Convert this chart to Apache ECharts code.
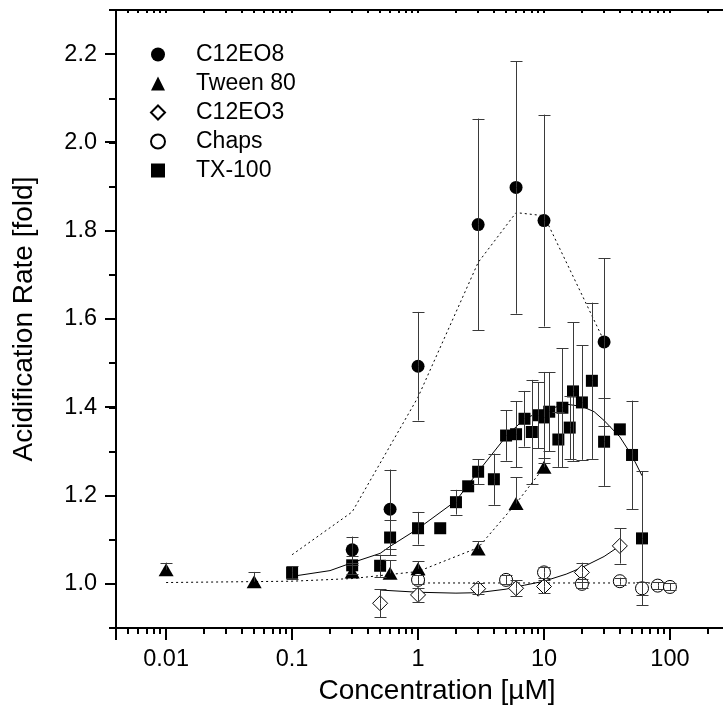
<!DOCTYPE html>
<html><head><meta charset="utf-8">
<script src="https://cdn.jsdelivr.net/npm/echarts@6/dist/echarts.min.js"></script>
<style>html,body{margin:0;padding:0;background:#fff}#c{width:723px;height:709px}</style>
</head><body><div id="c"></div><script>
const FONT = "'Liberation Sans', Arial, sans-serif";

// ---- data (concentration in µM, rate in fold) ----
const c12eo8Conc = [0.3, 0.6, 1, 3, 6, 10, 30];
const c12eo8Val  = [1.077, 1.169, 1.493, 1.814, 1.898, 1.823, 1.548];
const c12eo8Err  = [0.03, 0.09, 0.123, 0.24, 0.286, 0.24, 0.19];
const c12eo8LineConc = [0.1, 0.3, 1, 3, 6, 10, 30];
const c12eo8LineVal  = [1.066, 1.163, 1.423, 1.728, 1.841, 1.834, 1.55];

const tweenConc = [0.01, 0.05, 0.3, 0.6, 1, 3, 6, 10];
const tweenVal  = [1.032, 1.005, 1.027, 1.024, 1.034, 1.079, 1.182, 1.264];
const tweenErr  = [0.016, 0.022, 0.015, 0.03, 0.017, 0.018, 0.06, 0.02];
const tweenLineConc = [0.01, 0.1, 0.3, 1, 3, 6, 10];
const tweenLineVal  = [1.003, 1.006, 1.012, 1.028, 1.082, 1.182, 1.264];

const c12eo3Conc = [0.5, 1, 3, 6, 10, 20, 40];
const c12eo3Val  = [0.956, 0.975, 0.989, 0.990, 0.994, 1.026, 1.086];
const c12eo3Err  = [0.032, 0.015, 0.012, 0.018, 0.015, 0.022, 0.04];
const c12eo3LineConc = [0.5, 1, 2, 3, 5, 7, 10, 15, 20, 30, 40];
const c12eo3LineVal  = [0.986, 0.981, 0.979, 0.980, 0.988, 0.997, 1.006, 1.022, 1.037, 1.062, 1.086];

const chapsConc = [1, 5, 10, 20, 40, 60, 80, 100];
const chapsVal  = [1.009, 1.009, 1.026, 1.0, 1.006, 0.990, 0.996, 0.993];
const chapsErr  = [0.01, 0.01, 0.012, 0.01, 0.008, 0.015, 0.008, 0.008];
const chapsLineConc = [1, 100];
const chapsLineVal  = [1.002, 1.002];

const tx100Conc = [0.1, 0.3, 0.5, 0.6, 1, 1.5, 2, 2.5, 3, 4, 5, 6, 7, 8, 9, 10, 11, 13, 14, 16, 17, 20, 24, 30, 40, 50, 60];
const tx100Val  = [1.025, 1.042, 1.041, 1.105, 1.126, 1.126, 1.185, 1.221, 1.254, 1.237, 1.336, 1.339, 1.374, 1.344, 1.382, 1.377, 1.39, 1.327, 1.399, 1.354, 1.436, 1.411, 1.46, 1.322, 1.35, 1.292, 1.103];
const tx100Err  = [0.015, 0.02, 0.025, 0.04, 0.037, 0, 0.028, 0, 0.028, 0.058, 0.057, 0.075, 0.063, 0.118, 0.075, 0.103, 0.09, 0.062, 0.135, 0.072, 0.157, 0.13, 0.177, 0.1, 0, 0.123, 0.152];
const tx100LineConc = [0.1, 0.2, 0.3, 0.5, 0.6, 1, 2, 3, 5, 7, 10, 15, 20, 25, 30, 40, 50, 60];
const tx100LineVal  = [1.017, 1.03, 1.048, 1.069, 1.085, 1.125, 1.188, 1.254, 1.334, 1.374, 1.393, 1.407, 1.402, 1.39, 1.37, 1.333, 1.29, 1.245];

// ---- axes / ticks ----
const X_MIN = 0.004, X_MAX = 500, Y_MIN = 0.9, Y_MAX = 2.3;
const xMajorTicks = [0.01, 0.1, 1, 10, 100];
const xMinorTicks = [0.005, 0.006, 0.007, 0.008, 0.009,
  0.02, 0.03, 0.04, 0.05, 0.06, 0.07, 0.08, 0.09,
  0.2, 0.3, 0.4, 0.5, 0.6, 0.7, 0.8, 0.9,
  2, 3, 4, 5, 6, 7, 8, 9,
  20, 30, 40, 50, 60, 70, 80, 90,
  200, 300, 400];
const yMajorTicks = [1.0, 1.2, 1.4, 1.6, 1.8, 2.0, 2.2];
const legendNames = ['C12EO8', 'Tween 80', 'C12EO3', 'Chaps', 'TX-100'];

const zip = (a, b) => a.map((v, i) => [v, b[i]]);

function errSeries(conc, val, up, down) {
  return {
    type: 'custom', silent: true, z: 4, clip: false,
    data: conc.map((c, i) => [c, val[i], up[i], down ? down[i] : up[i]]),
    encode: { x: 0, y: 1 },
    renderItem: (params, api) => {
      const c = api.value(0), v = api.value(1), u = api.value(2), d = api.value(3);
      const kids = [];
      const st = { stroke: '#3a3a3a', lineWidth: 1 };
      const ctr = api.coord([c, v]);
      const x = Math.round(ctr[0]) + 0.5;
      if (u > 0) {
        const t = api.coord([c, v + u]);
        kids.push({ type: 'line', shape: { x1: x, y1: ctr[1], x2: x, y2: t[1] }, style: st });
        kids.push({ type: 'line', shape: { x1: x - 6, y1: Math.round(t[1]) + 0.5, x2: x + 6, y2: Math.round(t[1]) + 0.5 }, style: st });
      }
      if (d > 0) {
        const b = api.coord([c, v - d]);
        kids.push({ type: 'line', shape: { x1: x, y1: ctr[1], x2: x, y2: b[1] }, style: st });
        kids.push({ type: 'line', shape: { x1: x - 6, y1: Math.round(b[1]) + 0.5, x2: x + 6, y2: Math.round(b[1]) + 0.5 }, style: st });
      }
      return { type: 'group', children: kids };
    }
  };
}

function tickSeries(points, dx, dy) {
  return {
    type: 'custom', silent: true, z: 10, clip: false,
    data: points, encode: { x: 0, y: 1 },
    renderItem: (params, api) => {
      const p = api.coord([api.value(0), api.value(1)]);
      const x = Math.round(p[0]), y = Math.round(p[1]);
      return { type: 'line', shape: { x1: x, y1: y, x2: x + dx, y2: y + dy },
        style: { stroke: '#000', lineWidth: 2 } };
    }
  };
}

function fitLine(conc, val, type) {
  return { type: 'line', data: zip(conc, val), symbol: 'none', silent: true, z: 2,
    lineStyle: { color: '#000', width: 1, type: type } };
}

const openStyle = { color: '#fff', borderColor: '#000', borderWidth: 1, opacity: 1 };
const fillStyle = { color: '#000', opacity: 1 };

const chart = echarts.init(document.getElementById('c'), null, { renderer: 'canvas' });
chart.setOption({
  animation: false,
  backgroundColor: '#fff',
  textStyle: { fontFamily: FONT },
  grid: { left: 116, top: 10, right: -35, bottom: 81, containLabel: false, outerBoundsMode: 'none' },
  legend: {
    data: legendNames, orient: 'vertical', left: 145, top: 38,
    itemWidth: 14, itemHeight: 14, itemGap: 6,
    textStyle: { fontFamily: FONT, fontSize: 23, color: '#000', padding: [0, 0, 0, 26] }
  },
  xAxis: [{
    type: 'log', logBase: 10, min: X_MIN, max: X_MAX, position: 'bottom',
    name: 'Concentration [µM]', nameLocation: 'middle', nameGap: 45,
    nameTextStyle: { fontFamily: FONT, fontSize: 28, color: '#000' },
    axisLine: { lineStyle: { color: '#000', width: 2 } },
    axisTick: { length: 12, lineStyle: { color: '#000', width: 2 } },
    axisLabel: { fontFamily: FONT, fontSize: 23.5, color: '#000', margin: 20,
      formatter: v => {
        const m = xMajorTicks.find(t => Math.abs(t - v) / t < 1e-6);
        return m === undefined ? '' : String(m);
      } },
    splitLine: { show: false }
  }, {
    type: 'log', logBase: 10, min: X_MIN, max: X_MAX, position: 'top',
    axisLine: { lineStyle: { color: '#000', width: 2 } },
    axisTick: { show: false }, axisLabel: { show: false }, splitLine: { show: false }
  }],
  yAxis: {
    type: 'value', min: Y_MIN, max: Y_MAX, interval: 0.1,
    name: 'Acidification Rate [fold]', nameLocation: 'middle', nameGap: 78,
    nameTextStyle: { fontFamily: FONT, fontSize: 28, color: '#000' },
    axisLine: { show: true, lineStyle: { color: '#000', width: 2 } },
    axisTick: { length: 7, lineStyle: { color: '#000', width: 2 } },
    axisLabel: { fontFamily: FONT, fontSize: 23.5, color: '#000', margin: 19,
      formatter: v => (Math.round(v * 10) % 2 === 0 ? v.toFixed(1) : '') },
    splitLine: { show: false }
  },
  series: [
    fitLine(c12eo8LineConc, c12eo8LineVal, [2, 3]),
    fitLine(tweenLineConc, tweenLineVal, [2, 3]),
    fitLine(c12eo3LineConc, c12eo3LineVal, 'solid'),
    fitLine(chapsLineConc, chapsLineVal, [2, 3]),
    fitLine(tx100LineConc, tx100LineVal, 'solid'),
    { name: 'C12EO8', type: 'scatter', data: zip(c12eo8Conc, c12eo8Val), symbol: 'circle', symbolSize: 13, itemStyle: fillStyle, z: 3 },
    { name: 'Tween 80', type: 'scatter', data: zip(tweenConc, tweenVal), symbol: 'triangle', symbolSize: [15, 13], itemStyle: fillStyle, z: 3 },
    { name: 'C12EO3', type: 'scatter', data: zip(c12eo3Conc, c12eo3Val), symbol: 'diamond', symbolSize: [15, 15], itemStyle: openStyle, z: 3 },
    { name: 'Chaps', type: 'scatter', data: zip(chapsConc, chapsVal), symbol: 'circle', symbolSize: 13, itemStyle: openStyle, z: 3 },
    { name: 'TX-100', type: 'scatter', data: zip(tx100Conc, tx100Val), symbol: 'rect', symbolSize: 12, itemStyle: fillStyle, z: 3 },
    errSeries(c12eo8Conc, c12eo8Val, c12eo8Err),
    errSeries(tweenConc, tweenVal, tweenErr, tweenConc.map(() => 0)),
    errSeries(c12eo3Conc, c12eo3Val, c12eo3Err),
    errSeries(chapsConc, chapsVal, chapsErr),
    errSeries(tx100Conc, tx100Val, tx100Err),
    tickSeries(xMinorTicks.map(v => [v, Y_MIN]), 0, 6),
    tickSeries(xMinorTicks.concat(xMajorTicks).map(v => [v, Y_MAX]), 0, 3),
    tickSeries(yMajorTicks.map(v => [X_MIN, v]), -11, 0)
  ]
});
</script></body></html>
